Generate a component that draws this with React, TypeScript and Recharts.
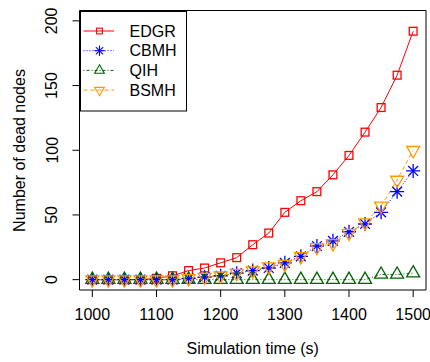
import React from 'react';
import { LineChart, Line, XAxis, YAxis, ReferenceArea, Legend } from 'recharts';

const times = [1000, 1025, 1050, 1075, 1100, 1125, 1150, 1175, 1200, 1225, 1250, 1275, 1300, 1325, 1350, 1375, 1400, 1425, 1450, 1475, 1500];
const edgr = [0, 0, 0, 0, 1, 3, 7, 9, 13, 17, 27, 36, 52, 61, 68, 81, 96, 114, 133, 158, 192];
const cbmh = [0, 0, 0, 0, 0, 0, 1, 2, 3, 5, 7, 9, 13, 18, 26, 30, 37, 43, 52, 68, 84];
const qih = [0, 0, 0, 0, 0, 0, 0, 0, 0, 0, 0, 0, 0, 0, 0, 0, 0, 0, 4, 4, 5];
const bsmh = [0, 0, 0, 0, 0, 0, 1, 2, 3, 5, 7, 10, 12, 18, 25, 28, 36, 44, 57, 77, 100];

const xTicks = [1000, 1100, 1200, 1300, 1400, 1500];
const yTicks = [0, 50, 100, 150, 200];
const seriesNames = ['EDGR', 'CBMH', 'QIH', 'BSMH'];

const data = times.map((t, i) => ({ t, EDGR: edgr[i], CBMH: cbmh[i], QIH: qih[i], BSMH: bsmh[i] }));

const FONT = '"Liberation Sans", Arial, Helvetica, sans-serif';

type Shape = 'square' | 'star' | 'up' | 'down';
const styles: Record<string, { color: string; dash?: string; shape: Shape }> = {
  EDGR: { color: '#FF0000', shape: 'square' },
  CBMH: { color: '#0000FF', dash: '1 2', shape: 'star' },
  QIH: { color: '#006400', dash: '1 2 3 2', shape: 'up' },
  BSMH: { color: '#FF9900', dash: '4 3', shape: 'down' },
};

function marker(shape: Shape, color: string, cx: number, cy: number, s: number, sw: number, key?: any) {
  const common = { stroke: color, fill: 'none', strokeWidth: sw };
  if (shape === 'square') {
    const h = 3.9 * s;
    return <rect key={key} x={cx - h} y={cy - h} width={2 * h} height={2 * h} {...common} />;
  }
  if (shape === 'star') {
    const a = 7 * s;
    const d = 4.9 * s;
    return (
      <g key={key} {...common}>
        <line x1={cx - a} y1={cy} x2={cx + a} y2={cy} />
        <line x1={cx} y1={cy - a} x2={cx} y2={cy + a} />
        <line x1={cx - d} y1={cy - d} x2={cx + d} y2={cy + d} />
        <line x1={cx - d} y1={cy + d} x2={cx + d} y2={cy - d} />
      </g>
    );
  }
  const r = 7.5 * s;
  const hw = r * 0.866;
  if (shape === 'up') {
    return <polygon key={key} points={`${cx},${cy - r} ${cx + hw},${cy + r / 2} ${cx - hw},${cy + r / 2}`} {...common} />;
  }
  return <polygon key={key} points={`${cx},${cy + r} ${cx + hw},${cy - r / 2} ${cx - hw},${cy - r / 2}`} {...common} />;
}

const makeDot = (name: string) => (props: any) => {
  const st = styles[name];
  if (props.cx == null || props.cy == null) return <g key={props.key ?? props.index} />;
  return marker(st.shape, st.color, props.cx, props.cy, 1, 1.3, props.key ?? `${name}-${props.index}`);
};

const XTick = (props: any) => (
  <text x={props.x} y={320} textAnchor="middle" fontFamily={FONT} fontSize={16} fill="#000">
    {props.payload.value}
  </text>
);

const YTick = (props: any) => {
  const bx = 57.5;
  const y = props.y;
  return (
    <text x={bx} y={y} textAnchor="middle" fontFamily={FONT} fontSize={16} fill="#000" transform={`rotate(-90, ${bx}, ${y})`}>
      {props.payload.value}
    </text>
  );
};

const renderLegend = () => {
  const rows = [20, 39.7, 59.4, 79.1];
  return (
    <svg width={108} height={101} style={{ display: 'block' }}>
      <rect x={0.5} y={0.5} width={106} height={99.5} fill="#fff" stroke="#000" strokeWidth={1} />
      {seriesNames.map((n, i) => {
        const st = styles[n];
        const y = rows[i];
        return (
          <g key={n}>
            <line x1={3.5} y1={y} x2={34} y2={y} stroke={st.color} strokeWidth={1} strokeDasharray={st.dash} />
            {marker(st.shape, st.color, 19.5, y, 0.74, 1.1)}
            <text x={49.5} y={y + 5.7} fontFamily={FONT} fontSize={16} fill="#000">{n}</text>
          </g>
        );
      })}
    </svg>
  );
};

export default function App() {
  return (
    <div style={{ position: 'absolute', left: 0, top: 0, background: '#fff' }}>
      <LineChart width={430} height={362} data={data} margin={{ top: 10.5, right: 4, left: 19.5, bottom: 42 }}>
        <XAxis
          dataKey="t"
          type="number"
          domain={[980, 1520]}
          ticks={xTicks}
          interval={0}
          axisLine={false}
          tickSize={7}
          tickLine={{ stroke: '#000' }}
          tick={XTick}
          height={30}
          allowDataOverflow
          label={() => (
            <text x={252.7} y={354} textAnchor="middle" fontFamily={FONT} fontSize={16} fill="#000">
              Simulation time (s)
            </text>
          )}
        />
        <YAxis
          type="number"
          domain={[-8, 208]}
          ticks={yTicks}
          interval={0}
          axisLine={false}
          tickSize={7}
          tickLine={{ stroke: '#000' }}
          tick={YTick}
          width={60}
          allowDataOverflow
          label={() => (
            <text x={25} y={150.5} textAnchor="middle" fontFamily={FONT} fontSize={16} fill="#000" transform="rotate(-90, 25, 150.5)">
              Number of dead nodes
            </text>
          )}
        />
        <ReferenceArea x1={980} x2={1520} y1={-8} y2={208} fill="none" stroke="#000" strokeWidth={1} ifOverflow="visible" />
        {seriesNames.map((n) => (
          <Line
            key={n}
            dataKey={n}
            stroke={styles[n].color}
            strokeWidth={1}
            strokeDasharray={styles[n].dash}
            dot={makeDot(n)}
            activeDot={false}
            isAnimationActive={false}
          />
        ))}
        <Legend
          content={renderLegend}
          layout="vertical"
          align="center"
          verticalAlign="middle"
          wrapperStyle={{ left: 79.5, top: 10.5, width: 108, height: 101 }}
        />
      </LineChart>
    </div>
  );
}
